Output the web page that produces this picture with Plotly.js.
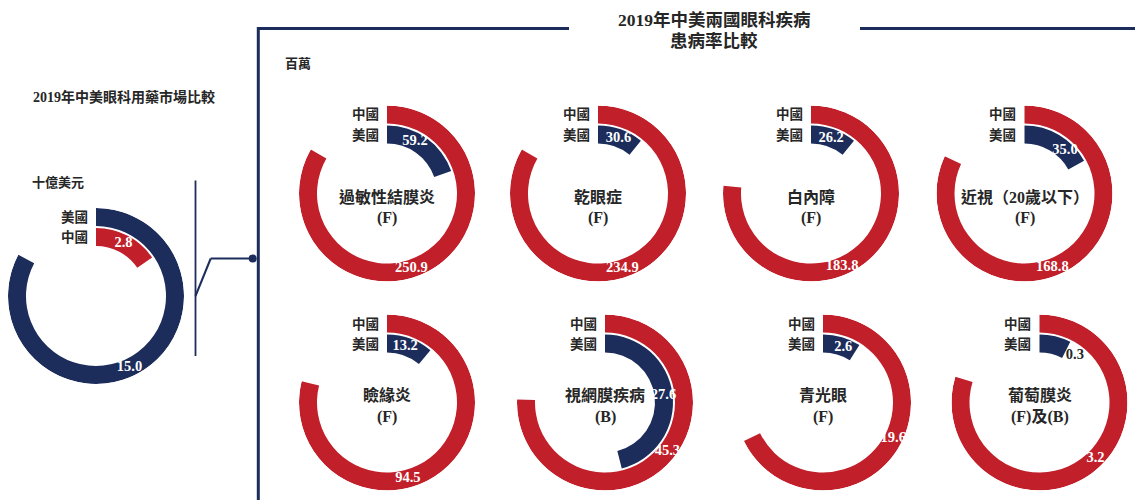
<!DOCTYPE html>
<html>
<head>
<meta charset="utf-8">
<script src="https://cdn.plot.ly/plotly-3.0.1.min.js"></script>
<style>html,body{margin:0;padding:0;background:#fff;}#chart{width:1135px;height:500px;}</style>
</head>
<body>
<div id="chart"></div>
<script>
// ---------------- data ----------------
const marketTitle = '2019年中美眼科用藥市場比較';
const marketUnit = '十億美元';
const marketUS = 15.0;
const marketChina = 2.8;

const diseaseTitle = ['2019年中美兩國眼科疾病', '患病率比較'];
const diseaseUnit = '百萬';
const diseases = ['過敏性結膜炎', '乾眼症', '白內障', '近視（20歲以下）', '瞼緣炎', '視網膜疾病', '青光眼', '葡萄膜炎'];
const diseaseTags = ['(F)', '(F)', '(F)', '(F)', '(F)', '(B)', '(F)', '(F)及(B)'];
const chinaPatients = [250.9, 234.9, 183.8, 168.8, 94.5, 45.3, 19.6, 3.2];
const usPatients = [59.2, 30.6, 26.2, 35.0, 13.2, 27.6, 2.6, 0.3];
const countryChina = '中國';
const countryUS = '美國';

// ---------------- layout config (positions / styles only) ----------------
const W = 1135, H = 500, R = 88;
const RED = '#c1202b', NAVY = '#1c2d5b', DARK = '#262626';
const FONT = 'Liberation Serif, "Noto Sans CJK TC", serif';
const centers = [[387, 193.5], [598, 193.5], [811, 193.5], [1024.5, 193.5],
                 [387, 402.5], [605, 402.5], [823, 402.5], [1039.5, 402.5]];
const sweeps = [300, 300, 275, 295, 284, 272, 244, 287];   // arc length (deg) of the larger series
const outerLabelPos = [0.54, 0.54, 0.57, 0.54, 0.58, 0.47, 0.48, 0.47]; // label position along arc
const innerLabelPos = [0.40, 0.52, 0.51, 0.71, 0.45, 0.50, 0.62, 0.50];
const leftCenter = [96, 296];
const leftSweep = 298;
const outerRing = [70, 88], innerRing = [50, 68];

const px = x => x / W;
const py = y => 1 - y / H;

const traces = [];
const layout = {
  width: W, height: H,
  margin: {l: 0, r: 0, t: 0, b: 0},
  paper_bgcolor: '#fff', plot_bgcolor: '#fff',
  showlegend: false,
  font: {family: FONT, color: DARK},
  annotations: [],
  shapes: []
};

function makePolar(id, c) {
  layout[id] = {
    domain: {x: [px(c[0] - R), px(c[0] + R)], y: [py(c[1] + R), py(c[1] - R)]},
    bgcolor: 'rgba(0,0,0,0)',
    angularaxis: {visible: false, rotation: 90, direction: 'clockwise', thetaunit: 'degrees'},
    radialaxis: {visible: false, range: [0, R]}
  };
}

function addRing(sub, value, maxValue, sweep, ring, color, labelPos) {
  const a = value / maxValue * sweep;
  traces.push({
    type: 'barpolar', subplot: sub,
    theta: [a / 2], width: [a], base: [ring[0]], r: [ring[1] - ring[0]],
    marker: {color: color, line: {width: 0}},
    hoverinfo: 'skip'
  });
  const small = a < 30;
  traces.push({
    type: 'scatterpolar', subplot: sub, mode: 'text',
    theta: [small ? a + 10 : a * labelPos], r: [(ring[0] + ring[1]) / 2],
    text: [value.toFixed(1)],
    textposition: 'middle center',
    textfont: {family: FONT, size: 14.5, color: small ? DARK : '#ffffff', weight: 700},
    hoverinfo: 'skip', cliponaxis: false
  });
}

function addText(text, x, y, size, anchor) {
  layout.annotations.push({
    text: text, x: px(x), y: py(y), xref: 'paper', yref: 'paper',
    xanchor: anchor || 'center', yanchor: 'middle', showarrow: false,
    font: {family: FONT, size: size, color: DARK, weight: 700}
  });
}

// ----- left market chart -----
makePolar('polar', leftCenter);
const mMax = Math.max(marketUS, marketChina);
addRing('polar', marketUS, mMax, leftSweep, outerRing, NAVY, 0.52);
addRing('polar', marketChina, mMax, leftSweep, innerRing, RED, 0.5);
addText(countryUS, leftCenter[0] - 6.5, leftCenter[1] - (outerRing[0] + outerRing[1]) / 2, 13.5, 'right');
addText(countryChina, leftCenter[0] - 6.5, leftCenter[1] - (innerRing[0] + innerRing[1]) / 2, 13.5, 'right');
addText(marketTitle, 124, 97, 14, 'center');
addText(marketUnit, 30, 182, 13, 'left');

// ----- disease charts -----
diseases.forEach((name, i) => {
  const id = 'polar' + (i + 2);
  const c = centers[i];
  makePolar(id, c);
  const m = Math.max(chinaPatients[i], usPatients[i]);
  addRing(id, chinaPatients[i], m, sweeps[i], outerRing, RED, outerLabelPos[i]);
  addRing(id, usPatients[i], m, sweeps[i], innerRing, NAVY, innerLabelPos[i]);
  addText(countryChina, c[0] - 6.5, c[1] - (outerRing[0] + outerRing[1]) / 2, 13.5, 'right');
  addText(countryUS, c[0] - 6.5, c[1] - (innerRing[0] + innerRing[1]) / 2, 13.5, 'right');
  const off = i < 4 ? [3, 24] : [-7.5, 14];
  addText(name, c[0], c[1] + off[0], 16, 'center');
  addText(diseaseTags[i], c[0], c[1] + off[1], 16, 'center');
});

addText(diseaseTitle[0], 714, 20, 17.5, 'center');
addText(diseaseTitle[1], 714, 41.5, 17.5, 'center');
addText(diseaseUnit, 283, 63, 13, 'left');

// ----- frame & connector lines -----
function line(x0, y0, x1, y1, w) {
  layout.shapes.push({type: 'line', xref: 'paper', yref: 'paper',
    x0: px(x0), y0: py(y0), x1: px(x1), y1: py(y1),
    line: {color: NAVY, width: w}});
}
line(258.3, 28.5, 569, 28.5, 3);
line(860, 28.5, 1135, 28.5, 3);
line(258.3, 27, 258.3, 500, 3);
line(195.5, 180.5, 195.5, 356, 1.8);
line(195.5, 296, 210.7, 258.5, 2);
line(210.7, 258.5, 252.7, 258.5, 2);
layout.shapes.push({type: 'circle', xref: 'paper', yref: 'paper',
  x0: px(248.7), x1: px(256.7), y0: py(262.5), y1: py(254.5),
  fillcolor: NAVY, line: {color: NAVY, width: 0}});

Plotly.newPlot('chart', traces, layout, {staticPlot: true, displayModeBar: false});
</script>
</body>
</html>
